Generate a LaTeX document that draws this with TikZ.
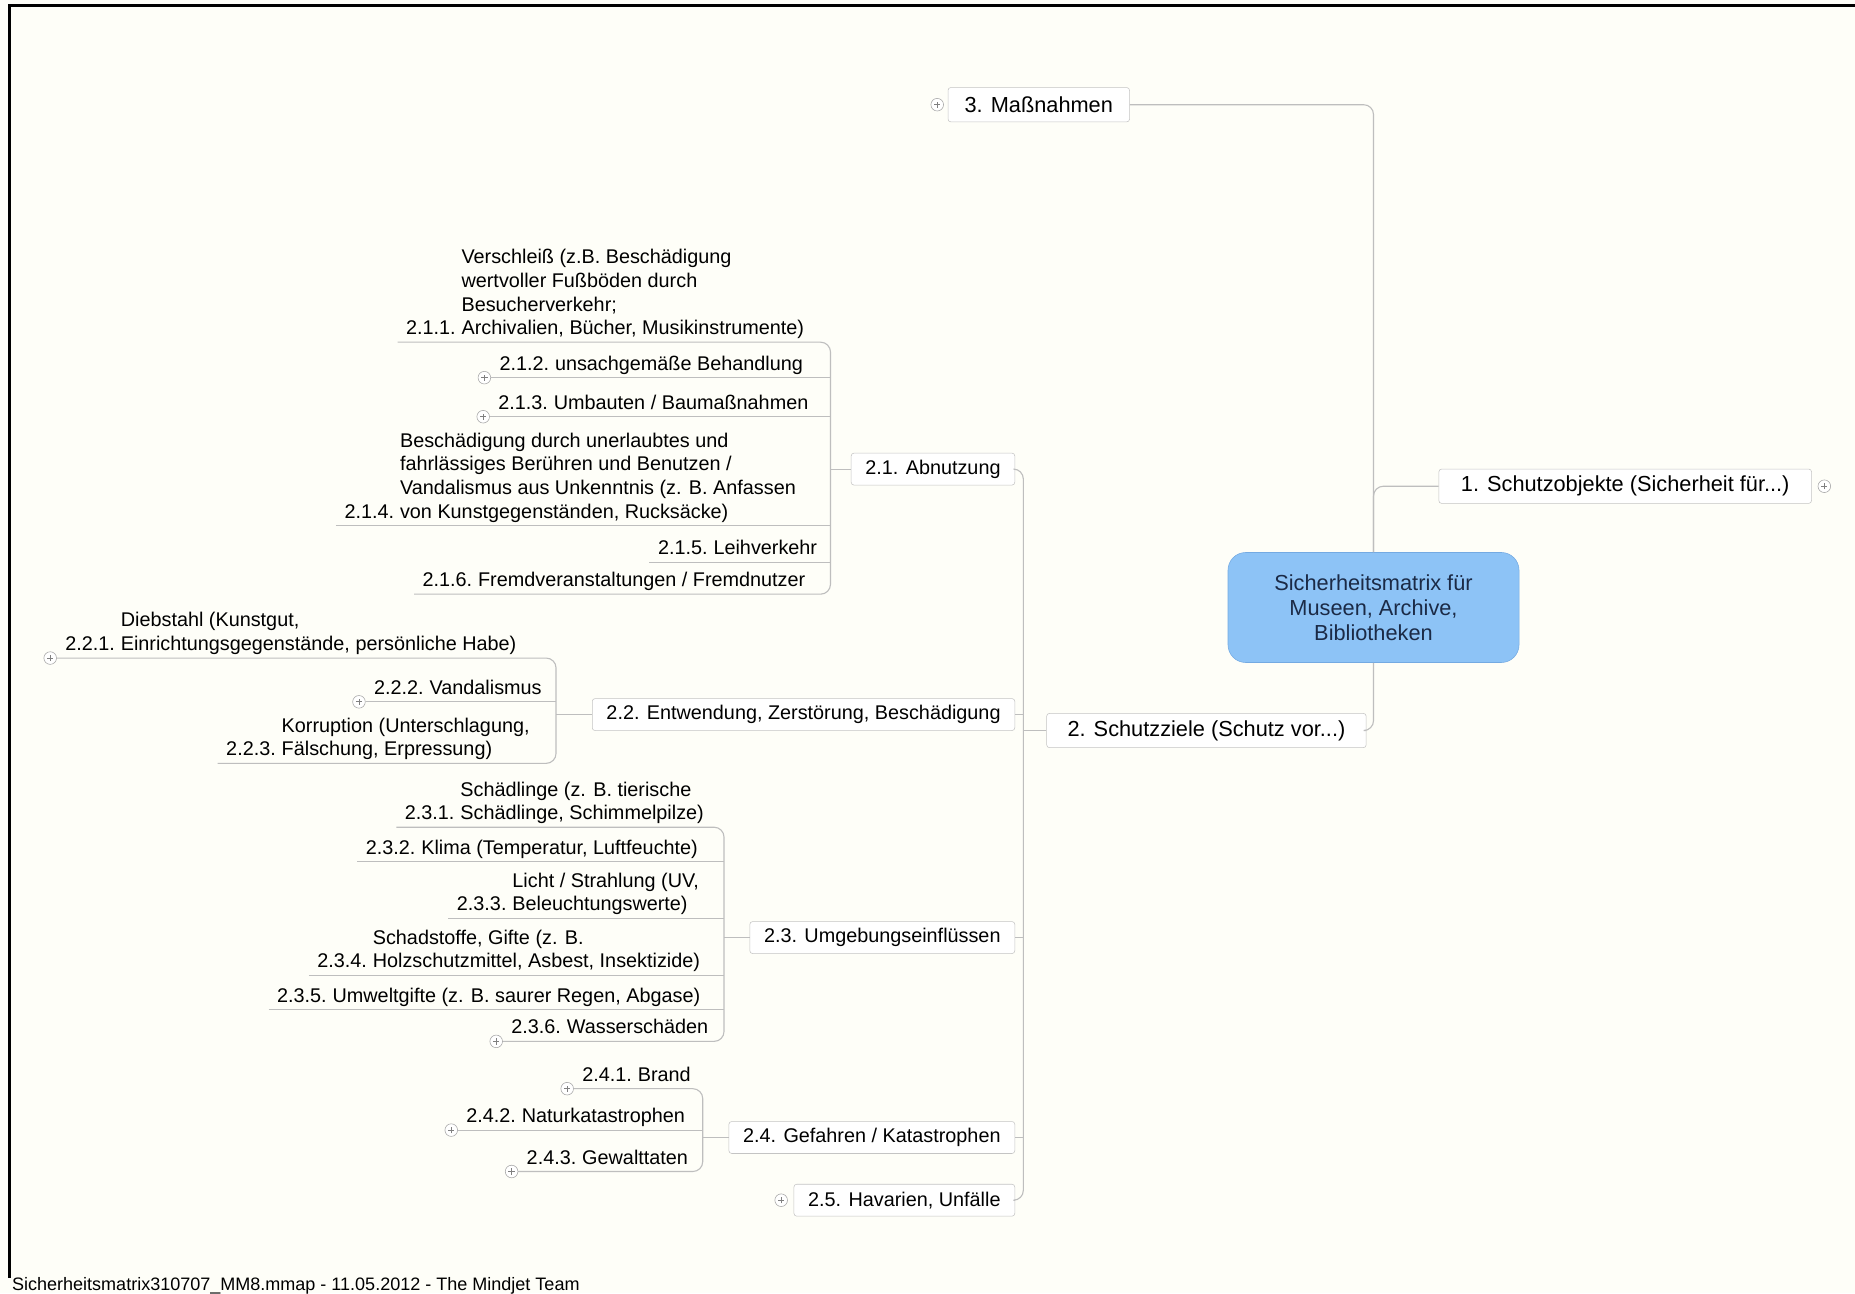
\documentclass[tikz,border=0pt]{standalone}
\usepackage{fontspec}
\setmainfont{Liberation Sans}
\usetikzlibrary{positioning}
\definecolor{paper}{HTML}{FEFEF8}
\definecolor{linegray}{HTML}{BEBEBE}
\definecolor{boxgray}{HTML}{C4C4C4}
\definecolor{topicblue}{HTML}{8DC3F6}
\definecolor{topicedge}{HTML}{74AAE2}
\definecolor{navy}{HTML}{1B2A46}
\newcommand{\leaf}[3]{\begin{tabular}[b]{@{}r@{\hspace{0.15cm}}l@{}}#1#2 & #3\end{tabular}}

\begin{document}
\begin{tikzpicture}[x=0.03cm,y=-0.03cm,
  link/.style={draw=linegray,line width=0.8pt,rounded corners=0.25cm},
  center node/.style={draw=topicedge,fill=topicblue,rounded corners=0.45cm,minimum width=7.38cm,minimum height=2.79cm,align=center,text=navy,font=\fontsize{15.7}{17.9}\selectfont},
  topic node/.style={draw=boxgray,fill=white,rounded corners=2pt,minimum height=0.87cm,inner xsep=0.42cm,font=\fontsize{15.7}{18}\selectfont},
  sub node/.style={draw=boxgray,fill=white,rounded corners=2pt,minimum height=0.81cm,inner xsep=0.36cm,font=\fontsize{14.3}{17.1}\selectfont},
  leaf node/.style={inner xsep=0.21cm,inner ysep=0pt,anchor=base west,font=\fontsize{14.3}{17.1}\selectfont},
  plus node/.style={circle,draw=gray!70,fill=white,inner sep=0pt,minimum size=0.32cm,
    path picture={\draw[gray,line width=0.5pt] ([xshift=-0.08cm]path picture bounding box.center) -- ([xshift=0.08cm]path picture bounding box.center)
      ([yshift=-0.08cm]path picture bounding box.center) -- ([yshift=0.08cm]path picture bounding box.center);}}]

    \useasboundingbox (0,0) rectangle (1568,1093);
    \fill[paper] (0,0) rectangle (1568,1093);
    \draw[line width=0.08cm] (8,1080) -- (8,5) -- (1568,5);

    % main topics
    \node[center node] (0) at (1161,513.5) {Sicherheitsmatrix für\\Museen, Archive,\\Bibliotheken};
    \node[topic node] (3) [anchor=east] at (955,88.5) {3. Maßnahmen};
    \node[topic node,minimum width=9.45cm] (1) [anchor=west] at (1216,411) {1. Schutzobjekte (Sicherheit für...)};
    \node[topic node,minimum width=8.1cm] (2) [anchor=east] at (1155,617.5) {2. Schutzziele (Schutz vor...)};

    % 2.x
    \node[sub node] (21) [anchor=east] at (858,396.5) {2.1. Abnutzung};
    \node[sub node] (22) [anchor=east] at (858,604) {2.2. Entwendung, Zerstörung, Beschädigung};
    \node[sub node] (23) [anchor=east] at (858,792.5) {2.3. Umgebungseinflüssen};
    \node[sub node] (24) [anchor=east] at (858,961.5) {2.4. Gefahren / Katastrophen};
    \node[sub node] (25) [anchor=east] at (858,1014.5) {2.5. Havarien, Unfälle};

    % leaves
    \node[leaf node] (211) at (336,283) {\leaf{& Verschleiß (z.B. Beschädigung\\ & wertvoller Fußböden durch\\ & Besucherverkehr;\\}{2.1.1.}{Archivalien, Bücher, Musikinstrumente)}};
    \node[leaf node] (212) at (415,313) {\leaf{}{2.1.2.}{unsachgemäße Behandlung}};
    \node[leaf node] (213) at (414,346) {\leaf{}{2.1.3.}{Umbauten / Baumaßnahmen}};
    \node[leaf node] (214) at (284,438) {\leaf{& Beschädigung durch unerlaubtes und\\ & fahrlässiges Berühren und Benutzen /\\ & Vandalismus aus Unkenntnis (z. B. Anfassen\\}{2.1.4.}{von Kunstgegenständen, Rucksäcke)}};
    \node[leaf node] (215) at (549,469) {\leaf{}{2.1.5.}{Leihverkehr}};
    \node[leaf node] (216) at (350,496) {\leaf{}{2.1.6.}{Fremdveranstaltungen / Fremdnutzer}};

    \node[leaf node] (221) at (48,550) {\leaf{& Diebstahl (Kunstgut,\\}{2.2.1.}{Einrichtungsgegenstände, persönliche Habe)}};
    \node[leaf node] (222) at (309,587) {\leaf{}{2.2.2.}{Vandalismus}};
    \node[leaf node] (223) at (184,639) {\leaf{& Korruption (Unterschlagung,\\}{2.2.3.}{Fälschung, Erpressung)}};

    \node[leaf node] (231) at (335,693) {\leaf{& Schädlinge (z. B. tierische\\}{2.3.1.}{Schädlinge, Schimmelpilze)}};
    \node[leaf node] (232) at (302,722) {\leaf{}{2.3.2.}{Klima (Temperatur, Luftfeuchte)}};
    \node[leaf node] (233) at (379,770) {\leaf{& Licht / Strahlung (UV,\\}{2.3.3.}{Beleuchtungswerte)}};
    \node[leaf node] (234) at (261,818) {\leaf{& Schadstoffe, Gifte (z. B.\\}{2.3.4.}{Holzschutzmittel, Asbest, Insektizide)}};
    \node[leaf node] (235) at (227,847) {\leaf{}{2.3.5.}{Umweltgifte (z. B. saurer Regen, Abgase)}};
    \node[leaf node] (236) at (425,874) {\leaf{}{2.3.6.}{Wasserschäden}};

    \node[leaf node] (241) at (485,914) {\leaf{}{2.4.1.}{Brand}};
    \node[leaf node] (242) at (387,949) {\leaf{}{2.4.2.}{Naturkatastrophen}};
    \node[leaf node] (243) at (438,984) {\leaf{}{2.4.3.}{Gewalttaten}};

    % branch points
    \coordinate (t2) at (865,617.5);
    \coordinate (b21) at (702,396.5);
    \coordinate (b22) at (470,604);
    \coordinate (b23) at (612,792.5);
    \coordinate (b24) at (594,961.5);

    \draw[link] (3.east) -| (0.north);
    \draw[link] (0.north) |- (1.west);
    \draw[link] (0.south) |- (2.east);

    \draw[link] (2.west) -- (t2);
    \draw[link] (21.east) -| (t2) |- (25.east);
    \foreach \n in {22,23,24}
        \draw[link] (\n.east) -- (\n.east -| t2);

    \draw[link] (211.south west) -| (b21) |- (216.south west);
    \foreach \n in {212,213,214,215}
        \draw[link] (\n.south west) -- (\n.south west -| b21);
    \draw[link] (b21) -- (21.west);

    \draw[link] (221.south west) -| (b22) |- (223.south west);
    \draw[link] (222.south west) -- (222.south west -| b22);
    \draw[link] (b22) -- (22.west);

    \draw[link] (231.south west) -| (b23) |- (236.south west);
    \foreach \n in {232,233,234,235}
        \draw[link] (\n.south west) -- (\n.south west -| b23);
    \draw[link] (b23) -- (23.west);

    \draw[link] (241.south west) -| (b24) |- (243.south west);
    \draw[link] (242.south west) -- (242.south west -| b24);
    \draw[link] (b24) -- (24.west);

    % collapse markers
    \node[plus node,left=0.1cm of 3] {};
    \node[plus node,right=0.15cm of 1] {};
    \node[plus node,left=0.15cm of 25] {};
    \foreach \n in {212,213,221,222,236,241,242,243}
        \node[plus node,left=0pt of \n.south west] {};

    \node[anchor=base west,inner sep=0pt,font=\fontsize{13}{15}\selectfont] (foot) at (10,1091) {Sicherheitsmatrix310707\_MM8.mmap - 11.05.2012 - The Mindjet Team};
\end{tikzpicture}
\end{document}
